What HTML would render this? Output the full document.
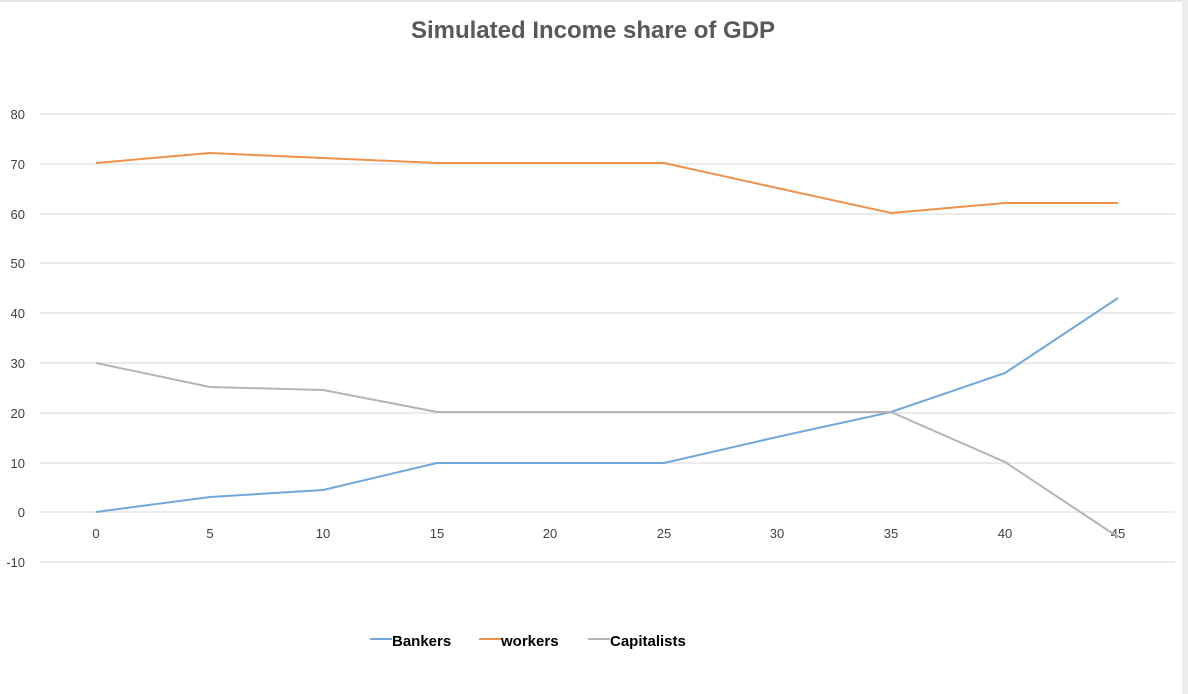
<!DOCTYPE html>
<html><head><style>body{margin:0;background:#fff}svg{display:block}</style></head>
<body>
<svg width="1188" height="694" xmlns="http://www.w3.org/2000/svg" font-family="Liberation Sans, sans-serif">
<rect width="1188" height="694" fill="#fff"/>
<rect x="1182" y="0" width="6" height="694" fill="#ececec"/>
<line x1="0" y1="1" x2="1182" y2="1" stroke="#e6e6e6" stroke-width="2"/>
<g stroke="#ebebeb" stroke-width="2">
<line x1="40" x2="1175" y1="114" y2="114"/><line x1="40" x2="1175" y1="164" y2="164"/>
<line x1="40" x2="1175" y1="214" y2="214"/><line x1="40" x2="1175" y1="263" y2="263"/>
<line x1="40" x2="1175" y1="313" y2="313"/><line x1="40" x2="1175" y1="363" y2="363"/>
<line x1="40" x2="1175" y1="413" y2="413"/><line x1="40" x2="1175" y1="463" y2="463"/>
<line x1="40" x2="1175" y1="512" y2="512"/><line x1="40" x2="1175" y1="562" y2="562"/>
</g>
<text x="593" y="38" text-anchor="middle" font-size="24" font-weight="bold" fill="#595959">Simulated Income share of GDP</text>
<g font-size="13" fill="#404040" text-anchor="end">
<text x="25" y="119">80</text><text x="25" y="169">70</text><text x="25" y="219">60</text>
<text x="25" y="268">50</text><text x="25" y="318">40</text><text x="25" y="368">30</text>
<text x="25" y="418">20</text><text x="25" y="468">10</text><text x="25" y="517">0</text>
<text x="25" y="567">-10</text>
</g>
<g font-size="13" fill="#404040" text-anchor="middle">
<text x="96" y="538">0</text><text x="210" y="538">5</text><text x="323" y="538">10</text>
<text x="437" y="538">15</text><text x="550" y="538">20</text><text x="664" y="538">25</text>
<text x="777" y="538">30</text><text x="891" y="538">35</text><text x="1005" y="538">40</text>
<text x="1118" y="538">45</text>
</g>
<g fill="none" stroke-width="2" stroke-linejoin="round">
<polyline stroke="#70a8dc" points="96,512 210,497 323,490 437,463 550,463 664,463 777,437 891,412 1005,373 1118,298"/>
<polyline stroke="#ef914a" points="96,163 210,153 323,158 437,163 550,163 664,163 777,188 891,213 1005,203 1118,203"/>
<polyline stroke="#b4b4b4" points="96,363 210,387 323,390 437,412 550,412 664,412 777,412 891,412 1005,462 1118,537"/>
</g>
<g stroke-width="2">
<line x1="370" x2="392" y1="639" y2="639" stroke="#70a8dc"/>
<line x1="479" x2="501" y1="639" y2="639" stroke="#ef914a"/>
<line x1="588" x2="610" y1="639" y2="639" stroke="#b4b4b4"/>
</g>
<g font-size="15" font-weight="bold" fill="#000">
<text x="392" y="646">Bankers</text><text x="501" y="646">workers</text><text x="610" y="646">Capitalists</text>
</g>
</svg>
</body></html>
